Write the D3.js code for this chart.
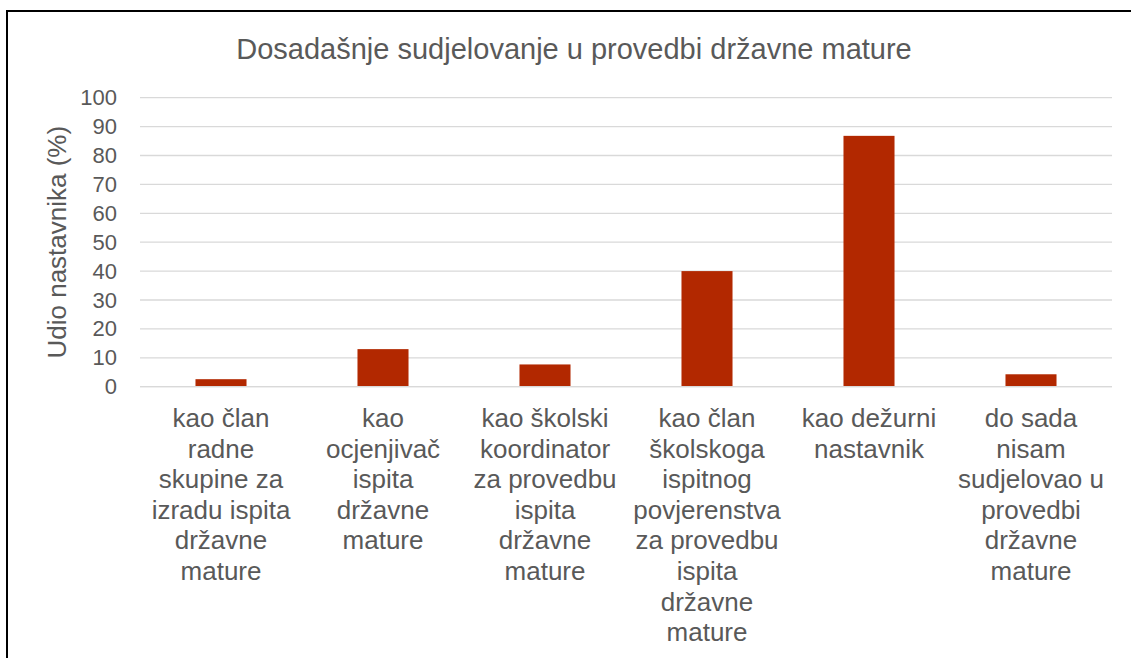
<!DOCTYPE html>
<html>
  <head>
    <meta charset="utf-8">
    <script src="https://d3js.org/d3.v7.min.js"></script>
    <style>
      body { margin: 0; background: #fff; }
      svg text { font-family: "Liberation Sans", Arial, sans-serif; fill: #595959; }
    </style>
  </head>
<body>
  <script>
    "use strict";

    // chart data
    var categories = [
      "kao član radne skupine za izradu ispita državne mature",
      "kao ocjenjivač ispita državne mature",
      "kao školski koordinator za provedbu ispita državne mature",
      "kao član školskoga ispitnog povjerenstva za provedbu ispita državne mature",
      "kao dežurni nastavnik",
      "do sada nisam sudjelovao u provedbi državne mature"
    ];
    // how the category labels wrap in the original
    var categoryLines = [
      ["kao član", "radne", "skupine za", "izradu ispita", "državne", "mature"],
      ["kao", "ocjenjivač", "ispita", "državne", "mature"],
      ["kao školski", "koordinator", "za provedbu", "ispita", "državne", "mature"],
      ["kao član", "školskoga", "ispitnog", "povjerenstva", "za provedbu", "ispita", "državne", "mature"],
      ["kao dežurni", "nastavnik"],
      ["do sada", "nisam", "sudjelovao u", "provedbi", "državne", "mature"]
    ];
    var values = [2.6, 13.0, 7.7, 40.0, 86.8, 4.3];
    var yTicks = [0, 10, 20, 30, 40, 50, 60, 70, 80, 90, 100];
    var title = "Dosadašnje sudjelovanje u provedbi državne mature";
    var yTitle = "Udio nastavnika (%)";

    var width = 1131, height = 658;
    var plot = { left: 140, right: 1112, top: 97.7, bottom: 386.7 };

    var svg = d3.select("body").append("svg")
        .attr("width", width)
        .attr("height", height);

    // outer frame (runs off the right and bottom edge)
    svg.append("rect")
        .attr("x", 7).attr("y", 11)
        .attr("width", 1140).attr("height", 660)
        .attr("fill", "none")
        .attr("stroke", "#000")
        .attr("stroke-width", 2);

    var x = d3.scaleBand()
        .domain(categories)
        .range([plot.left, plot.right])
        .paddingInner(0.685)
        .paddingOuter(0.3425);

    var y = d3.scaleLinear()
        .domain([0, 100])
        .range([plot.bottom, plot.top]);

    // gridlines
    svg.append("g").selectAll("line")
        .data(yTicks)
        .enter().append("line")
            .attr("x1", plot.left).attr("x2", plot.right)
            .attr("y1", function (d) { return y(d); })
            .attr("y2", function (d) { return y(d); })
            .attr("stroke", "#d9d9d9")
            .attr("stroke-width", 1.3);

    // y axis labels
    var yAxis = d3.axisLeft(y).tickValues(yTicks).tickSize(0).tickPadding(0);
    var gy = svg.append("g")
        .attr("transform", "translate(117,0)")
        .call(yAxis);
    gy.select(".domain").remove();
    gy.selectAll("text")
        .style("font-size", "22px")
        .attr("fill", "#595959")
        .attr("font-family", "Liberation Sans, Arial, sans-serif");

    // bars
    svg.append("g").selectAll("rect")
        .data(values)
        .enter().append("rect")
            .attr("x", function (d, i) { return x(categories[i]); })
            .attr("width", x.bandwidth())
            .attr("y", function (d) { return y(d); })
            .attr("height", function (d) { return y(0) - y(d); })
            .attr("fill", "#b22800");

    // x axis line
    svg.append("line")
        .attr("x1", plot.left).attr("x2", plot.right)
        .attr("y1", y(0)).attr("y2", y(0))
        .attr("stroke", "#d9d9d9")
        .attr("stroke-width", 1.3);

    // category labels, centred under each band
    var lab = svg.append("g").selectAll("text")
        .data(categories)
        .enter().append("text")
            .attr("text-anchor", "middle")
            .style("font-size", "26px")
            .attr("transform", function (d) {
                return "translate(" + (x(d) + x.bandwidth() / 2) + ",427)";
            });
    lab.selectAll("tspan")
        .data(function (d, i) { return categoryLines[i]; })
        .enter().append("tspan")
            .attr("x", 0)
            .attr("y", function (d, i) { return i * 30.6; })
            .text(function (d) { return d; });

    // y axis title
    svg.append("text")
        .attr("transform", "translate(66," + ((plot.top + plot.bottom) / 2) + ") rotate(-90)")
        .attr("text-anchor", "middle")
        .style("font-size", "26px")
        .text(yTitle);

    // chart title
    svg.append("text")
        .attr("x", 574).attr("y", 59)
        .attr("text-anchor", "middle")
        .style("font-size", "29px")
        .text(title);
  </script>
</body>
</html>
